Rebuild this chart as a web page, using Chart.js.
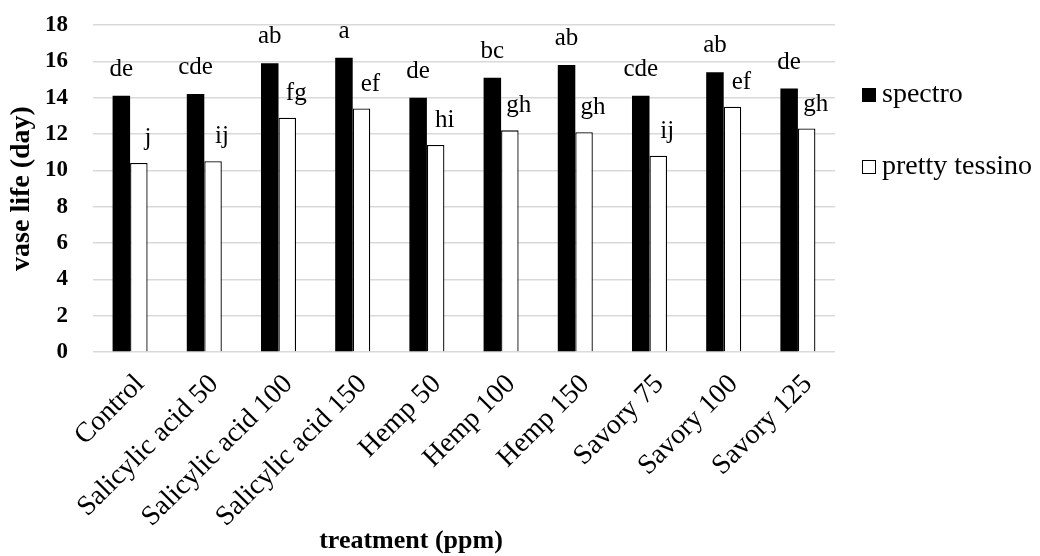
<!DOCTYPE html>
<html lang="en">

<head>
    <meta charset="UTF-8">
    <title>Vase life by treatment</title>
    <script src="https://cdn.jsdelivr.net/npm/chart.js@4.4.0/dist/chart.umd.min.js"></script>
    <style>
        body { margin: 0; background: #fff; }
        canvas { display: block; }
    </style>
</head>

<body>
    <canvas id="chart" width="1040" height="556"></canvas>

    <script>
        const categories = ['Control', 'Salicylic acid 50', 'Salicylic acid 100', 'Salicylic acid 150',
            'Hemp 50', 'Hemp 100', 'Hemp 150', 'Savory 75', 'Savory 100', 'Savory 125'];
        const spectro = [14.1, 14.2, 15.9, 16.2, 14.0, 15.1, 15.8, 14.1, 15.4, 14.5];
        const prettyTessino = [10.4, 10.5, 12.9, 13.4, 11.4, 12.2, 12.1, 10.8, 13.5, 12.3];
        const spectroLetters = ['de', 'cde', 'ab', 'a', 'de', 'bc', 'ab', 'cde', 'ab', 'de'];
        const tessinoLetters = ['j', 'ij', 'fg', 'ef', 'hi', 'gh', 'gh', 'ij', 'ef', 'gh'];

        const serif = '"Liberation Serif", "Times New Roman", serif';

        // letters above each bar (mean separation)
        const letterLabels = {
            id: 'letterLabels',
            afterDatasetsDraw(chart) {
                const ctx = chart.ctx;
                const sets = [spectroLetters, tessinoLetters];
                const shift = [[0, 20], [9, 18]];
                ctx.save();
                ctx.font = '25px ' + serif;
                ctx.fillStyle = '#000';
                ctx.textAlign = 'center';
                ctx.textBaseline = 'alphabetic';
                sets.forEach((letters, i) => {
                    chart.getDatasetMeta(i).data.forEach((bar, j) => {
                        ctx.fillText(letters[j], bar.x + shift[i][0], bar.y - shift[i][1]);
                    });
                });
                ctx.restore();
            }
        };

        // legend on the right and the x axis title
        const sideLegend = {
            id: 'sideLegend',
            afterDraw(chart) {
                const ctx = chart.ctx;
                const rows = [95, 167];
                ctx.save();
                ctx.font = '28px ' + serif;
                ctx.textBaseline = 'middle';
                ctx.textAlign = 'left';
                chart.data.datasets.forEach((ds, i) => {
                    const y = rows[i];
                    ctx.fillStyle = ds.backgroundColor;
                    ctx.fillRect(862, y - 7, 14, 14);
                    if (ds.borderWidth) {
                        ctx.strokeStyle = '#000';
                        ctx.lineWidth = 1;
                        ctx.strokeRect(862.5, y - 6.5, 13, 13);
                    }
                    ctx.fillStyle = '#000';
                    ctx.fillText(ds.label, 882, y);
                });
                ctx.font = 'bold 26px ' + serif;
                ctx.textAlign = 'center';
                ctx.fillText('treatment (ppm)', 411, 541);
                ctx.restore();
            }
        };

        new Chart(document.getElementById('chart'), {
            type: 'bar',
            data: {
                labels: categories,
                datasets: [
                    {
                        label: 'spectro',
                        data: spectro,
                        backgroundColor: '#000000',
                        borderWidth: 0
                    },
                    {
                        label: 'pretty tessino',
                        data: prettyTessino,
                        backgroundColor: '#ffffff',
                        borderColor: '#000000',
                        borderWidth: 1.3
                    }
                ]
            },
            options: {
                responsive: false,
                animation: false,
                categoryPercentage: 0.472,
                barPercentage: 1,
                layout: { padding: { left: 0, right: 205, top: 25, bottom: 0 } },
                plugins: {
                    legend: { display: false },
                    tooltip: { enabled: false }
                },
                scales: {
                    x: {
                        grid: { display: false, drawTicks: false },
                        border: { display: false },
                        ticks: {
                            color: '#000',
                            font: { family: serif, size: 28 },
                            minRotation: 45,
                            maxRotation: 45,
                            autoSkip: false,
                            padding: 16,
                            labelOffset: 10
                        },
                        afterFit(scale) {
                            scale.height = 204;
                            scale.paddingLeft = 0;
                            scale.paddingRight = 0;
                        }
                    },
                    y: {
                        min: 0,
                        max: 18,
                        grid: { color: '#d9d9d9', lineWidth: 1.5, drawTicks: false },
                        border: { display: false },
                        ticks: {
                            stepSize: 2,
                            color: '#000',
                            padding: 25,
                            font: { family: serif, size: 23, weight: 'bold' }
                        },
                        title: {
                            display: true,
                            text: 'vase life (day)',
                            color: '#000',
                            font: { family: serif, size: 28, weight: 'bold' },
                            padding: { top: 5, bottom: 0 }
                        },
                        afterFit(scale) {
                            scale.width = 93;
                            scale.paddingTop = 0;
                            scale.paddingBottom = 0;
                        }
                    }
                }
            },
            plugins: [letterLabels, sideLegend]
        });
    </script>
</body>

</html>
